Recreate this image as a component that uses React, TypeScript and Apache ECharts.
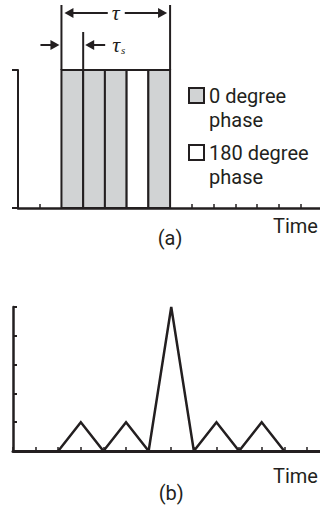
import React, { useEffect, useRef } from "react";
import * as echarts from "echarts";

// ---- data ----
const chipStarts = [2, 3, 4, 5, 6];
const chipPhases = [0, 0, 0, 180, 0];
const pulseHeight = 1;
const timeTicksA = [0, 1, 2, 3, 4, 5, 6, 7, 8, 9, 10, 11, 12, 13];
const acfTimes = [2, 3, 4, 5, 6, 7, 8, 9, 10, 11, 12];
const acfValues = [0, 1, 0, 1, 0, 5, 0, 1, 0, 1, 0];
const timeTicksB = [0, 1, 2, 3, 4, 5, 6, 7, 8, 9, 10, 11, 12, 13];
const legendLines0 = ["0 degree", "phase"];
const legendLines180 = ["180 degree", "phase"];
const axisTitle = "Time";
const panelLabels = ["(a)", "(b)"];

const INK = "#231f20";
const GRAY = "#d1d3d4";
const FONT = "Roboto";

export default function App() {
  const ref = useRef<HTMLDivElement>(null);
  useEffect(() => {
    if (!ref.current) return;
    const chart = echarts.init(ref.current, undefined, { renderer: "svg" });
    const axisCommon = {
      type: "value" as const,
      splitLine: { show: false },
      axisLabel: { show: false },
    };
    chart.setOption({
      animation: false,
      backgroundColor: "#ffffff",
      grid: [
        { left: 18, right: 0, top: 70, height: 138, outerBoundsMode: "none" },
        { left: 13, right: 0, top: 307, height: 144, outerBoundsMode: "none" },
      ],
      xAxis: [
        {
          ...axisCommon,
          gridIndex: 0,
          min: 0,
          max: 13.9,
          axisLine: { show: true, lineStyle: { color: INK, width: 2.5 } },
          axisTick: {
            show: true,
            inside: true,
            length: 4,
            customValues: timeTicksA,
            lineStyle: { color: INK, width: 1.5 },
          },
        },
        {
          ...axisCommon,
          gridIndex: 1,
          min: 0,
          max: 13.58,
          axisLine: { show: true, lineStyle: { color: INK, width: 3 } },
          axisTick: {
            show: true,
            inside: true,
            length: 4,
            customValues: timeTicksB,
            lineStyle: { color: INK, width: 1.5 },
          },
        },
      ],
      yAxis: [
        {
          ...axisCommon,
          gridIndex: 0,
          min: 0,
          max: 1,
          interval: 1,
          axisLine: { show: true, lineStyle: { color: INK, width: 2 } },
          axisTick: { show: true, inside: false, length: 6, lineStyle: { color: INK, width: 2 } },
        },
        {
          ...axisCommon,
          gridIndex: 1,
          min: 0,
          max: 5,
          interval: 1,
          axisLine: { show: true, lineStyle: { color: INK, width: 2.5 } },
          axisTick: { show: true, inside: true, length: 4, lineStyle: { color: INK, width: 2 } },
        },
      ],
      series: [
        {
          type: "custom",
          name: "chips",
          xAxisIndex: 0,
          yAxisIndex: 0,
          data: chipStarts.map((s, i) => [s, chipPhases[i]]),
          encode: { x: 0 },
          z: 3,
          renderItem: (params: any, api: any) => {
            const start = api.value(0);
            const phase = api.value(1);
            const p0 = api.coord([start, pulseHeight]);
            const p1 = api.coord([start + 1, 0]);
            return {
              type: "rect",
              shape: { x: p0[0], y: p0[1], width: p1[0] - p0[0], height: p1[1] - p0[1] },
              style: { fill: phase === 0 ? GRAY : "#ffffff", stroke: INK, lineWidth: 2 },
            };
          },
        },
        {
          type: "line",
          name: "autocorrelation",
          xAxisIndex: 1,
          yAxisIndex: 1,
          data: acfTimes.map((t, i) => [t, acfValues[i]]),
          showSymbol: false,
          symbol: "none",
          z: 3,
          lineStyle: { color: INK, width: 2.5, join: "miter" },
        },
      ],
    });

    const px = (g: number, x: number, y: number) =>
      chart.convertToPixel({ gridIndex: g } as any, [x, y]) as number[];
    const pStart = px(0, chipStarts[0], pulseHeight);
    const pEnd = px(0, chipStarts[chipStarts.length - 1] + 1, pulseHeight);
    const pSecond = px(0, chipStarts[1], pulseHeight);
    const top = pStart[1];
    const xs = pStart[0];
    const xe = pEnd[0];
    const x3 = pSecond[0];
    const ln = (x1: number, y1: number, x2: number, y2: number, w = 2) => ({
      type: "line",
      shape: { x1, y1, x2, y2 },
      style: { stroke: INK, lineWidth: w },
    });
    const head = (tipX: number, y: number, dir: number) => ({
      type: "polygon",
      shape: {
        points: [
          [tipX, y],
          [tipX - dir * 9, y - 5],
          [tipX - dir * 9, y + 5],
        ],
      },
      style: { fill: INK },
    });
    const tauY = 13;
    const tsY = 45;
    const mid = (xs + xe) / 2;
    const txt = (text: string, x: number, y: number, align = "left") => ({
      type: "text",
      x,
      y,
      style: {
        text,
        fontFamily: FONT,
        fontSize: 20,
        fill: INK,
        align,
        verticalAlign: "middle",
      },
    });
    const pA = px(0, chipStarts[chipStarts.length - 1] + 1, 0);
    const pB = px(1, 7, 0);

    chart.setOption({
      graphic: [
        ln(xs, 5, xs, top),
        ln(xe, 5, xe, top),
        ln(x3, 32, x3, top),
        // tau arrow
        ln(xs + 6, tauY, mid - 8, tauY),
        ln(mid + 9, tauY, xe - 6, tauY),
        head(xs + 3, tauY, -1),
        head(xe - 3, tauY, 1),
        {
          type: "text",
          x: mid,
          y: tauY - 1,
          style: {
            text: "τ",
            fontFamily: "Liberation Serif",
            fontStyle: "italic",
            fontSize: 22,
            fill: INK,
            align: "center",
            verticalAlign: "middle",
          },
        },
        // tau_s arrows
        ln(xs - 21, tsY, xs - 6, tsY),
        head(xs - 2, tsY, 1),
        ln(x3 + 6, tsY, x3 + 22, tsY),
        head(x3 + 2, tsY, -1),
        {
          type: "text",
          x: x3 + 29,
          y: tsY - 1,
          style: {
            text: "{t|τ}{s|s}",
            fill: INK,
            verticalAlign: "middle",
            align: "left",
            rich: {
              t: { fontFamily: "Liberation Serif", fontStyle: "italic", fontSize: 22, fill: INK },
              s: {
                fontFamily: "Liberation Serif",
                fontStyle: "italic",
                fontSize: 11,
                fill: INK,
                verticalAlign: "bottom",
                padding: [10, 0, 0, 1],
              },
            },
          },
        },
        // legend
        {
          type: "rect",
          shape: { x: 189, y: 88, width: 15, height: 15 },
          style: { fill: GRAY, stroke: INK, lineWidth: 2 },
        },
        txt(legendLines0[0], 209, 96),
        txt(legendLines0[1], 209, 120),
        {
          type: "rect",
          shape: { x: 189, y: 145, width: 15, height: 15 },
          style: { fill: "#ffffff", stroke: INK, lineWidth: 2 },
        },
        txt(legendLines180[0], 209, 153),
        txt(legendLines180[1], 209, 177),
        // axis titles and panel labels
        txt(axisTitle, 273, 226),
        txt(panelLabels[0], pA[0], 238, "center"),
        txt(axisTitle, 273, 476),
        txt(panelLabels[1], pB[0], 493, "center"),
      ],
    });
    return () => chart.dispose();
  }, []);
  return (
    <div
      ref={ref}
      style={{ position: "fixed", left: 0, top: 0, width: 320, height: 509, background: "#fff" }}
    />
  );
}
